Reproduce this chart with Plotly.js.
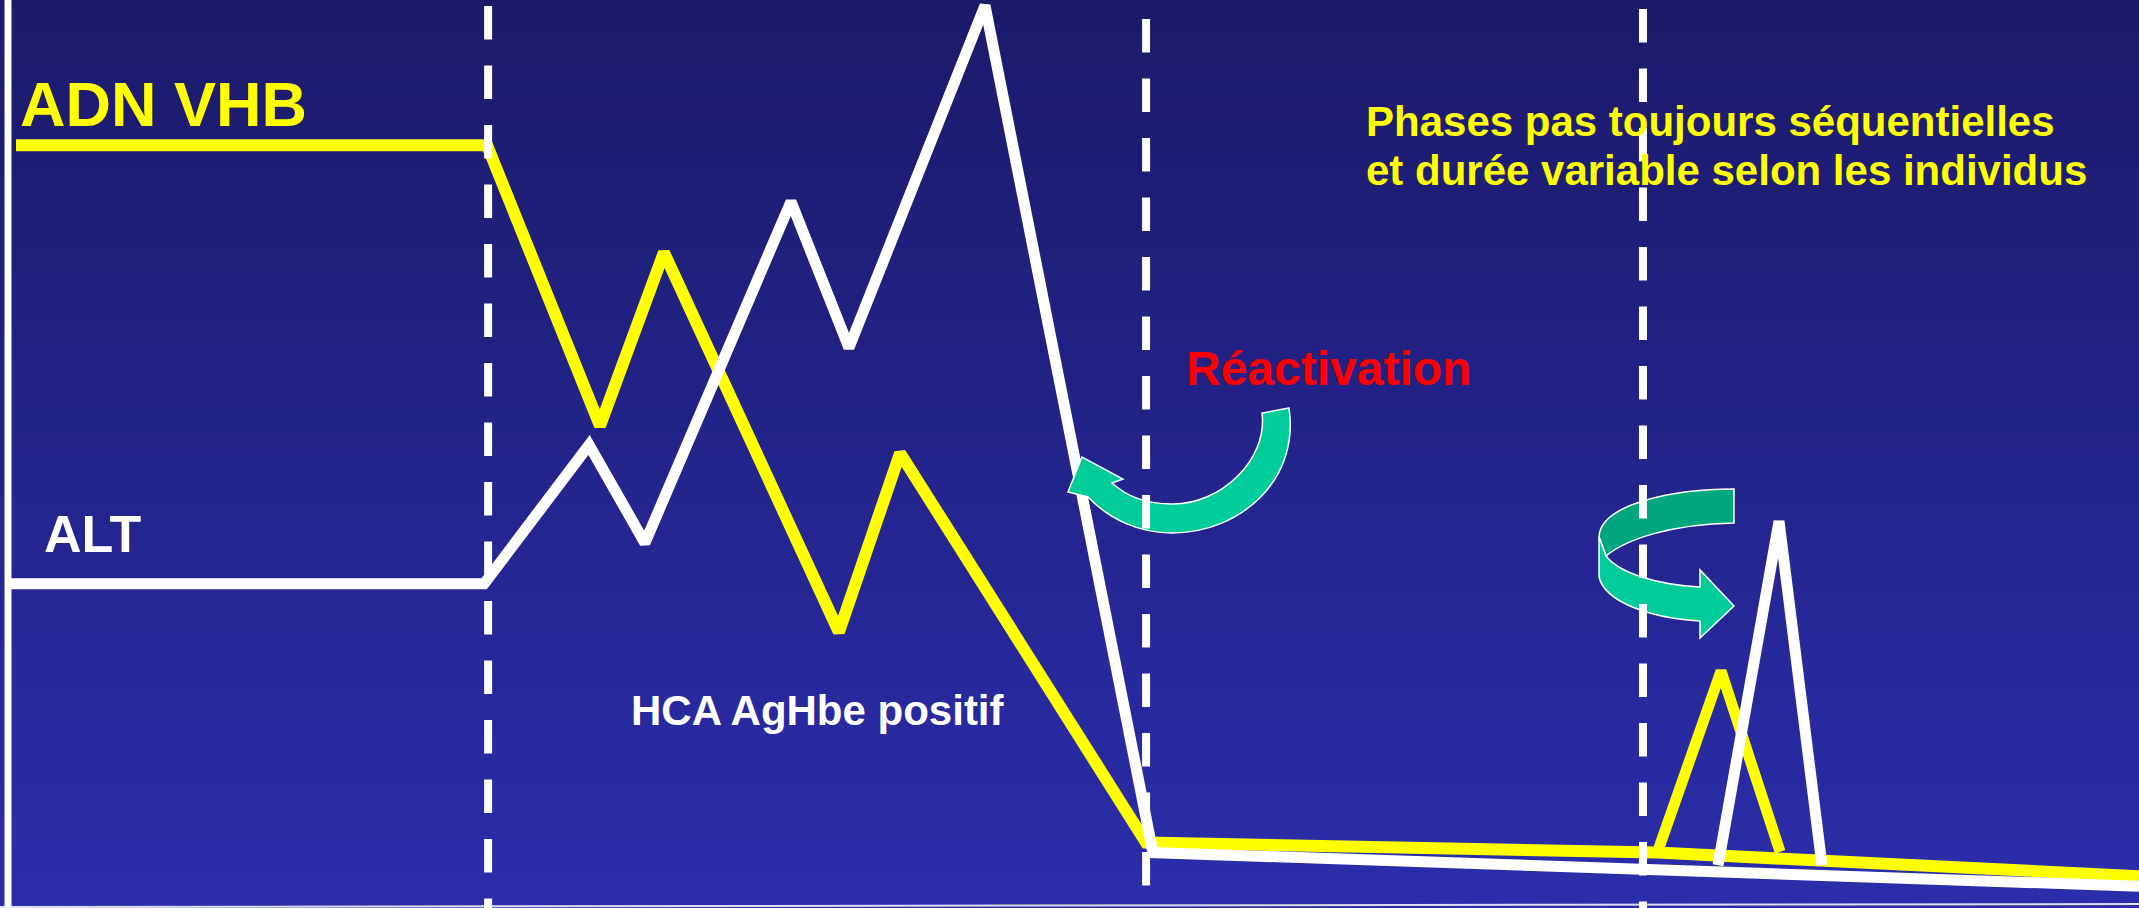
<!DOCTYPE html>
<html><head><meta charset="utf-8">
<script src="https://cdn.plot.ly/plotly-3.0.1.min.js"></script>
<style>html,body{margin:0;padding:0;background:#22237f;overflow:hidden}</style>
</head><body><div id="chart" style="width:2139px;height:908px"></div>
<script>
// ---- Data (schematic time axis 0-100, level axis 0-100) ----
const adnX = [0.75, 22.77, 28.05, 31.04, 39.22, 42.08, 53.58, 77.47, 100];
const adnY = [84.0, 84.0, 53.1, 72.2, 30.4, 50.1, 7.2, 6.1, 3.5];
const adnRebondX = [77.51, 80.46, 83.22];
const adnRebondY = [6.3, 26.1, 6.2];
const altX = [0.51, 22.63, 27.54, 30.15, 36.98, 39.69, 46.05, 53.90, 100];
const altY = [35.7, 35.7, 51.0, 40.2, 77.8, 61.7, 99.4, 6.1, 2.4];
const altRebondX = [80.32, 83.17, 85.18];
const altRebondY = [4.7, 42.6, 4.7];
const phaseX = [22.82, 53.58, 76.81];

const labelADN = "ADN VHB";
const labelALT = "ALT";
const labelHCA = "HCA AgHbe positif";
const labelReact = "Réactivation";
const noteLine1 = "Phases pas toujours séquentielles";
const noteLine2 = "et durée variable selon les individus";

// ---- helpers: page pixel -> axis units ----
const W = 2139, H = 908;
const X = px => px / W * 100;
const Y = py => (H - py) / H * 100;
function path(cmds) {
  return cmds.map(c => {
    const op = c[0];
    if (op === 'Z') return 'Z';
    const pts = [];
    for (let i = 1; i < c.length; i += 2) pts.push(X(c[i]).toFixed(3) + ',' + Y(c[i + 1]).toFixed(3));
    return op + pts.join(' ');
  }).join(' ');
}

const shapes = [];
// background gradient
const N = 80, c0 = [27, 26, 106], c1 = [43, 45, 171];
for (let i = 0; i < N; i++) {
  const t = i / (N - 1);
  const c = c0.map((v, k) => Math.round(v + (c1[k] - v) * t));
  shapes.push({type: 'rect', xref: 'paper', yref: 'paper', x0: 0, x1: 1,
    y0: 1 - (i + 1) / N - 0.001, y1: 1 - i / N, layer: 'below',
    fillcolor: `rgb(${c[0]},${c[1]},${c[2]})`, line: {width: 0}});
}
// left axis + bottom line
shapes.push({type: 'line', xref: 'x', yref: 'y', x0: X(8), x1: X(8), y0: Y(0), y1: Y(908), line: {color: '#ffffff', width: 7}, layer: 'above'});
shapes.push({type: 'line', xref: 'x', yref: 'y', x0: X(0), x1: X(2139), y0: Y(907), y1: Y(904), line: {color: 'rgba(255,255,255,0.85)', width: 2}, layer: 'above'});

// green arrow "Réactivation"
shapes.push({type: 'path', xref: 'x', yref: 'y', layer: 'above', fillcolor: '#00CC99', line: {color: '#ffffff', width: 1.5},
  path: path([['M', 1289, 408], ['L', 1262, 413], ['C', 1268, 460, 1220, 505, 1172, 504],
    ['C', 1145, 504, 1125, 495, 1112, 483], ['L', 1123, 479], ['L', 1082, 457], ['L', 1068, 492], ['L', 1088, 497],
    ['C', 1110, 520, 1140, 533, 1172, 533], ['C', 1240, 533, 1300, 480, 1289, 408], ['Z']])});
// ribbon arrow (dark upper part)
shapes.push({type: 'path', xref: 'x', yref: 'y', layer: 'above', fillcolor: '#00A67E', line: {color: '#ffffff', width: 1.5},
  path: path([['M', 1734, 489], ['C', 1670, 489, 1600, 505, 1599, 537], ['L', 1606, 556],
    ['C', 1625, 540, 1670, 524, 1734, 523], ['Z']])});
// ribbon arrow (light lower part)
shapes.push({type: 'path', xref: 'x', yref: 'y', layer: 'above', fillcolor: '#00CC99', line: {color: '#ffffff', width: 1.5},
  path: path([['M', 1599, 537], ['L', 1599, 577], ['C', 1605, 602, 1650, 618, 1700, 621], ['L', 1700, 638],
    ['L', 1734, 606], ['L', 1700, 570], ['L', 1700, 587], ['C', 1660, 585, 1620, 574, 1606, 556], ['Z']])});

// dashed phase separators
const dashTop = [6, 19, 9], dashBot = [908, 886, 908];
phaseX.forEach((x, i) => shapes.push({type: 'line', xref: 'x', yref: 'y', x0: x, x1: x,
  y0: Y(dashTop[i]), y1: Y(dashBot[i]), layer: 'above', line: {color: '#ffffff', width: 8, dash: '33.5px,26px'}}));

const font = (size, color) => ({family: 'Liberation Sans, Arial, sans-serif', size: size, color: color, weight: 'bold'});
const ann = (text, px, py, size, color) => ({text: text, x: X(px), y: Y(py), xref: 'x', yref: 'y',
  xanchor: 'left', yanchor: 'middle', showarrow: false, font: font(size, color), borderpad: 0});

const annotations = [
  ann(labelADN, 19, 104, 63, '#ffff00'),
  ann(labelALT, 43, 534, 52, '#ffffff'),
  ann(labelHCA, 630, 710, 42, '#ffffff'),
  ann(labelReact, 1185, 368, 48, '#ff0000'),
  ann(noteLine1, 1365, 121, 42, '#ffff00'),
  ann(noteLine2, 1365, 170, 42, '#ffff00')
];

const lineY = '#ffff00', lineW = '#ffffff';
const traces = [
  {x: adnX, y: adnY, mode: 'lines', line: {color: lineY, width: 12}, hoverinfo: 'skip'},
  {x: adnRebondX, y: adnRebondY, mode: 'lines', line: {color: lineY, width: 11}, hoverinfo: 'skip'},
  {x: altX, y: altY, mode: 'lines', line: {color: lineW, width: 11}, hoverinfo: 'skip'},
  {x: altRebondX, y: altRebondY, mode: 'lines', line: {color: lineW, width: 11}, hoverinfo: 'skip'}
];

const layout = {
  width: W, height: H, margin: {l: 0, r: 0, t: 0, b: 0, pad: 0},
  paper_bgcolor: '#22237f', plot_bgcolor: 'rgba(0,0,0,0)', showlegend: false,
  xaxis: {range: [0, 100], visible: false, fixedrange: true},
  yaxis: {range: [0, 100], visible: false, fixedrange: true},
  shapes: shapes, annotations: annotations
};
Plotly.newPlot('chart', traces, layout, {displayModeBar: false, staticPlot: true});
</script></body></html>
